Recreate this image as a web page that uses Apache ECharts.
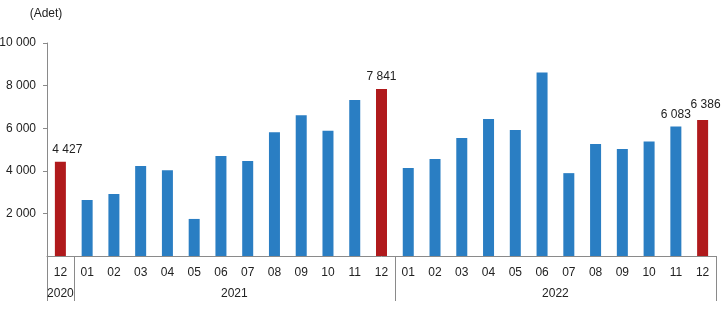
<!DOCTYPE html>
<html>
<head>
<meta charset="utf-8">
<script src="https://cdn.jsdelivr.net/npm/echarts@6/dist/echarts.min.js"></script>
<style>
  html, body { margin: 0; padding: 0; background: #fff; }
  #chart { width: 724px; height: 334px; }
</style>
</head>
<body>
<div id="chart"></div>
<script>
// Monthly counts (Adet), December 2020 – December 2022
const months = ['12','01','02','03','04','05','06','07','08','09','10','11','12',
                '01','02','03','04','05','06','07','08','09','10','11','12'];
const years  = ['2020','2021','2021','2021','2021','2021','2021','2021','2021','2021','2021','2021','2021',
                '2022','2022','2022','2022','2022','2022','2022','2022','2022','2022','2022','2022'];
const values = [4427,
                2630, 2910, 4220, 4030, 1740, 4690, 4460, 5810, 6610, 5880, 7320, 7841,
                4130, 4550, 5540, 6430, 5920, 8610, 3890, 5260, 5020, 5370, 6083, 6386];
const labeledIndices = [0, 12, 23, 24];
const yTicks = [0, 2000, 4000, 6000, 8000, 10000];

const BLUE = '#2a7ec3';
const RED = '#b01a1c';
const AXIS = '#8a8a8a';
const FONT = 'Liberation Sans, Arial, sans-serif';

const fmt = v => String(Math.round(v)).replace(/\B(?=(\d{3})+(?!\d))/g, ' ');

// Label nudges so neighbouring value labels stay clear of the axis and each other
const labelOffset = i => (i === 0 ? [7, 0] : i === values.length - 1 ? [3, -3] : [0, 0]);

// Year groups: boundaries and centres along the category scale
const groups = [];
years.forEach((y, i) => {
  const g = groups[groups.length - 1];
  if (g && g.year === y) g.end = i + 1;
  else groups.push({ year: y, start: i, end: i + 1 });
});
const groupBounds = [0].concat(groups.map(g => g.end));
const groupCentres = groups.map(g => (g.start + g.end) / 2);

const chart = echarts.init(document.getElementById('chart'));
chart.setOption({
  animation: false,
  grid: { left: 47, right: 8, top: 43, bottom: 78, outerBoundsMode: 'none', containLabel: false },
  xAxis: [
    {
      type: 'category',
      data: months,
      axisLine: { lineStyle: { color: AXIS } },
      axisTick: { interval: 0, length: 21, lineStyle: { color: AXIS } },
      axisLabel: { interval: 0, margin: 11, color: '#222', fontSize: 12, fontFamily: FONT }
    },
    {
      type: 'value',
      position: 'bottom',
      min: 0,
      max: years.length,
      axisLine: { show: false },
      splitLine: { show: false },
      axisTick: { show: true, length: 45, customValues: groupBounds, lineStyle: { color: AXIS } },
      axisLabel: {
        margin: 32, color: '#222', fontSize: 12, fontFamily: FONT,
        customValues: groupCentres,
        formatter: v => {
          const g = groups.find(gr => Math.abs((gr.start + gr.end) / 2 - v) < 1e-6);
          return g ? g.year : '';
        }
      }
    }
  ],
  yAxis: {
    type: 'value',
    min: yTicks[0],
    max: yTicks[yTicks.length - 1],
    interval: yTicks[1] - yTicks[0],
    name: '(Adet)',
    nameGap: 23,
    nameTextStyle: { color: '#222', fontSize: 12, fontFamily: FONT, align: 'center', padding: [0, 2, 0, 0] },
    axisLine: { show: true, lineStyle: { color: AXIS } },
    axisTick: { show: true, length: 4, lineStyle: { color: AXIS } },
    splitLine: { show: false },
    axisLabel: { margin: 11, showMinLabel: false, color: '#222', fontSize: 12, fontFamily: FONT, formatter: fmt }
  },
  series: [{
    type: 'bar',
    xAxisIndex: 0,
    barWidth: 11,
    data: values.map((v, i) => ({
      value: v,
      itemStyle: { color: months[i] === '12' ? RED : BLUE },
      label: {
        show: labeledIndices.includes(i),
        position: 'top',
        distance: 6,
        offset: labelOffset(i),
        color: '#222',
        fontSize: 12,
        fontFamily: FONT,
        formatter: p => fmt(p.value)
      }
    }))
  }]
});
</script>
</body>
</html>
